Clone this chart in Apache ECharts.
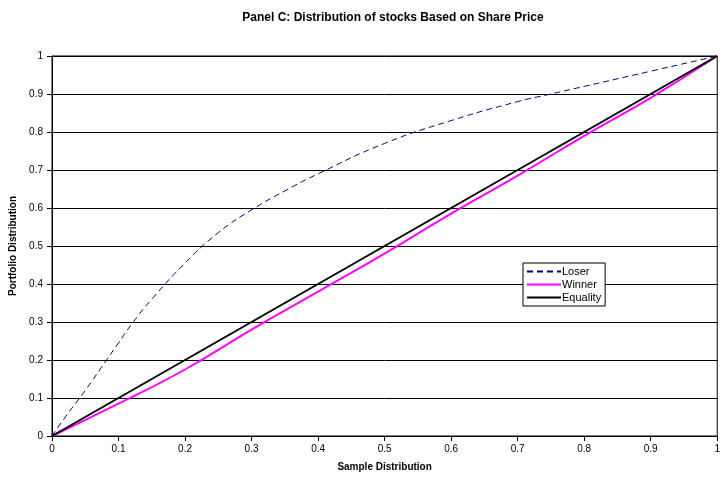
<!DOCTYPE html>
<html>
<head>
<meta charset="utf-8">
<script src="https://cdn.jsdelivr.net/npm/echarts@6/dist/echarts.min.js"></script>
<style>
  html, body { margin: 0; padding: 0; background: #fff; }
  #chart { width: 723px; height: 482px; }
</style>
</head>
<body>
<div id="chart"></div>
<script>
// 数据
const loserX = [0, 0.02, 0.05, 0.08, 0.1, 0.12, 0.15, 0.2, 0.25, 0.3, 0.35, 0.4, 0.5, 0.6, 0.7, 0.75, 0.8, 0.9, 1];
const loserY = [0, 0.05, 0.12, 0.195, 0.245, 0.295, 0.36, 0.455, 0.535, 0.595, 0.645, 0.69, 0.77, 0.83, 0.88, 0.9, 0.92, 0.96, 1];
const winnerX = [0, 0.1, 0.2, 0.3, 0.4, 0.5, 0.6, 0.7, 0.8, 0.9, 1];
const winnerY = [0, 0.085, 0.175, 0.28, 0.38, 0.48, 0.585, 0.685, 0.79, 0.89, 1];
const equalityX = [0, 1];
const equalityY = [0, 1];

function pairs(xs, ys) {
  return xs.map((x, i) => [x, ys[i]]);
}

const chart = echarts.init(document.getElementById('chart'));
const font = 'Liberation Sans, Arial, sans-serif';

const option = {
  animation: false,
  textStyle: { fontFamily: font },
  title: {
    text: 'Panel C: Distribution of stocks Based on Share Price',
    left: 388,
    textAlign: 'center',
    top: 7,
    textStyle: { fontSize: 12, fontWeight: 'bold', color: '#000', fontFamily: font },
  },
  grid: {
    left: 52,
    right: 1,
    top: 56,
    bottom: 46,
    show: true,
    borderColor: '#000',
    borderWidth: 1,
    backgroundColor: 'transparent',
  },
  legend: {
    orient: 'vertical',
    left: 523,
    top: 263,
    width: 82,
    padding: [3, 4, 3, 3],
    itemGap: 2,
    itemWidth: 34,
    itemHeight: 12,
    backgroundColor: '#fff',
    borderColor: '#000',
    borderWidth: 1,
    borderRadius: 0,
    itemStyle: { opacity: 0 },
    textStyle: { fontSize: 11, color: '#000', fontFamily: font, padding: [0, 0, 0, -4] },
    data: ['Loser', 'Winner', 'Equality'],
  },
  xAxis: {
    type: 'value',
    min: 0,
    max: 1,
    interval: 0.1,
    name: 'Sample Distribution',
    nameLocation: 'middle',
    nameGap: 26,
    nameTextStyle: { fontSize: 10, fontWeight: 'bold', color: '#000' },
    axisLine: { lineStyle: { color: '#000', width: 1 } },
    axisTick: { show: true, inside: false, length: 5, lineStyle: { color: '#000' } },
    axisLabel: { fontSize: 10, color: '#000', margin: 8 },
    splitLine: { show: false },
  },
  yAxis: {
    type: 'value',
    min: 0,
    max: 1,
    interval: 0.1,
    name: 'Portfolio Distribution',
    nameLocation: 'middle',
    nameGap: 34,
    nameRotate: 90,
    nameTextStyle: { fontSize: 10, fontWeight: 'bold', color: '#000' },
    axisLine: { show: true, lineStyle: { color: '#000', width: 1 } },
    axisTick: { show: true, inside: false, length: 5, lineStyle: { color: '#000' } },
    axisLabel: { fontSize: 10, color: '#000', margin: 9 },
    splitLine: { show: true, lineStyle: { color: '#000', width: 1 } },
  },
  series: [
    {
      name: 'Loser',
      type: 'line',
      smooth: true,
      symbol: 'none',
      lineStyle: { color: '#000080', width: 1, type: [6, 4] },
      itemStyle: { color: '#000080' },
      data: pairs(loserX, loserY),
    },
    {
      name: 'Winner',
      type: 'line',
      smooth: true,
      symbol: 'none',
      lineStyle: { color: '#FF00FF', width: 2 },
      itemStyle: { color: '#FF00FF' },
      data: pairs(winnerX, winnerY),
    },
    {
      name: 'Equality',
      type: 'line',
      symbol: 'none',
      lineStyle: { color: '#000', width: 2 },
      itemStyle: { color: '#000' },
      data: pairs(equalityX, equalityY),
    },
  ],
};

chart.setOption(option);
</script>
</body>
</html>
